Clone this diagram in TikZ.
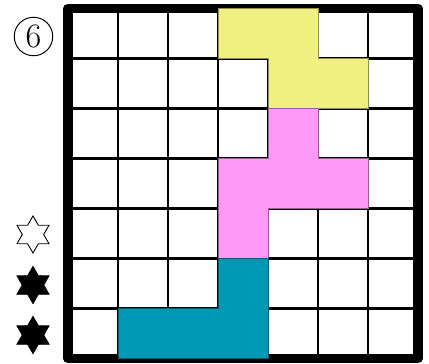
\documentclass[tikz,border=0pt]{standalone}
\begin{document}
\begin{tikzpicture}[x=1cm,y=1cm,
  gridline/.style={line width=1.4pt,black},
  border/.style={line width=5.5pt,black,line join=round},
  piece/.style={line width=0.4pt},
  starshape/.style={line width=0.5pt,black,line join=miter}]
\definecolor{pyellow}{RGB}{240,240,128}
\definecolor{ppink}{RGB}{255,153,247}
\definecolor{pteal}{RGB}{0,153,181}
\useasboundingbox (-1.36,-0.09) rectangle (7.22,7.17);
\draw[gridline] (0,0) grid (7,7);
\draw[border] (0,0) rectangle (7,7);
\filldraw[piece,fill=pyellow,draw=pyellow!60!black] (3,7) -- (5,7) -- (5,6) -- (6,6) -- (6,5) -- (4,5) -- (4,6) -- (3,6) -- cycle;
\filldraw[piece,fill=ppink,draw=ppink!60!black] (4,5) -- (5,5) -- (5,4) -- (6,4) -- (6,3) -- (4,3) -- (4,2) -- (3,2) -- (3,4) -- (4,4) -- cycle;
\filldraw[piece,fill=pteal,draw=pteal!60!black] (3,2) -- (4,2) -- (4,0) -- (1,0) -- (1,1) -- (3,1) -- cycle;
\node[circle,draw,line width=0.55pt,minimum size=0.77cm,inner sep=0pt,font=\fontsize{19.5}{19.5}\selectfont] (num) at (-0.69,6.44) {6};
\foreach \y/\f in {2.48/white,1.47/black,0.47/black}{
  \filldraw[starshape,fill=\f,shift={(-0.7,\y)}] (90:0.37)
    \foreach \i in {1,...,11}{ -- ({90+30*\i}:{isodd(\i)*0.214+(1-isodd(\i))*0.37}) } -- cycle;
}
\end{tikzpicture}
\end{document}
